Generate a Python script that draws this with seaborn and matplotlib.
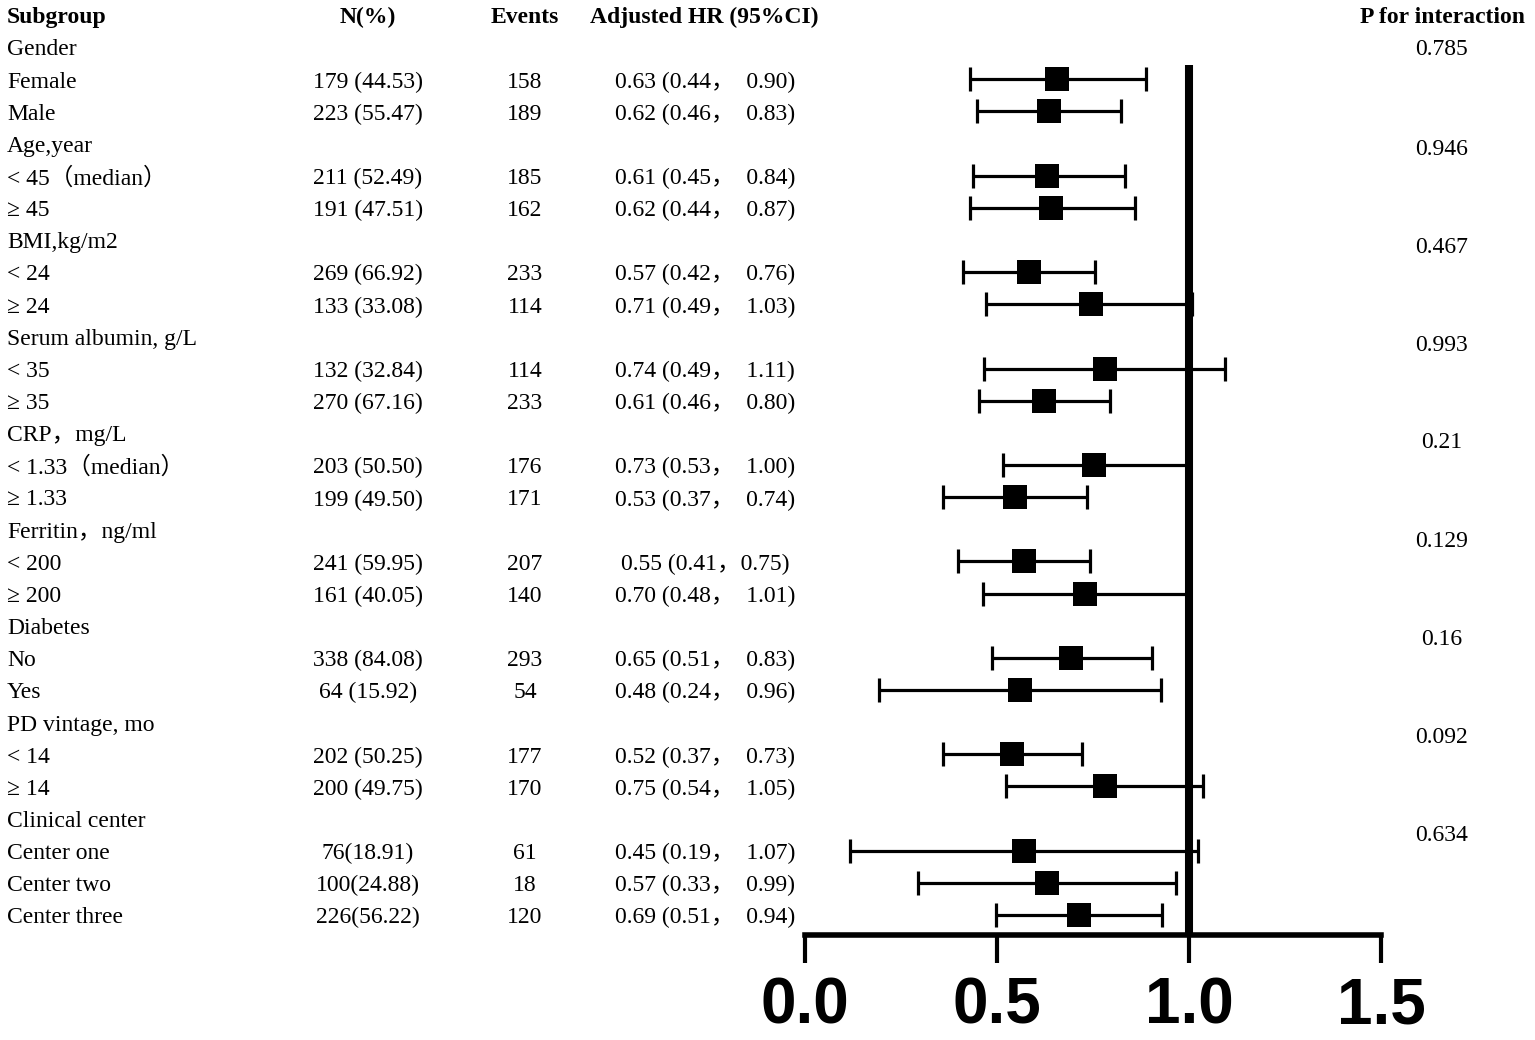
#!/usr/bin/env python3
"""
Forest plot of adjusted HR by subgroup, table columns on the left.
"""
import matplotlib
matplotlib.use('Agg')
import matplotlib.pyplot as plt
import matplotlib.transforms as mtransforms
import pandas as pd
import seaborn as sns

# table rows (group headers have no values)
labels = ['Gender', 'Female', 'Male',
          'Age,year', '< 45（median）', '≥ 45',
          'BMI,kg/m2', '< 24', '≥ 24',
          'Serum albumin, g/L', '< 35', '≥ 35',
          'CRP，mg/L', '< 1.33（median）', '≥ 1.33',
          'Ferritin，ng/ml', '< 200', '≥ 200',
          'Diabetes', 'No', 'Yes',
          'PD vintage, mo', '< 14', '≥ 14',
          'Clinical center', 'Center one', 'Center two', 'Center three']
is_group = [lab in ('Gender', 'Age,year', 'BMI,kg/m2', 'Serum albumin, g/L',
                    'CRP，mg/L', 'Ferritin，ng/ml', 'Diabetes',
                    'PD vintage, mo', 'Clinical center') for lab in labels]

n_pct = ['179 (44.53)', '223 (55.47)', '211 (52.49)', '191 (47.51)',
         '269 (66.92)', '133 (33.08)', '132 (32.84)', '270 (67.16)',
         '203 (50.50)', '199 (49.50)', '241 (59.95)', '161 (40.05)',
         '338 (84.08)', '64 (15.92)', '202 (50.25)', '200 (49.75)',
         '76(18.91)', '100(24.88)', '226(56.22)']
events = [158, 189, 185, 162, 233, 114, 114, 233, 176, 171, 207, 140,
          293, 54, 177, 170, 61, 18, 120]
hr_text = ['0.63 (0.44，  0.90)', '0.62 (0.46，  0.83)', '0.61 (0.45，  0.84)',
           '0.62 (0.44，  0.87)', '0.57 (0.42，  0.76)', '0.71 (0.49，  1.03)',
           '0.74 (0.49，  1.11)', '0.61 (0.46，  0.80)', '0.73 (0.53，  1.00)',
           '0.53 (0.37，  0.74)', '0.55 (0.41，0.75)', '0.70 (0.48，  1.01)',
           '0.65 (0.51，  0.83)', '0.48 (0.24，  0.96)', '0.52 (0.37，  0.73)',
           '0.75 (0.54，  1.05)', '0.45 (0.19，  1.07)', '0.57 (0.33，  0.99)',
           '0.69 (0.51，  0.94)']

# positions of squares / whiskers as drawn in the figure
hr_drawn = [0.656, 0.635, 0.630, 0.641, 0.583, 0.745, 0.781, 0.622, 0.753,
            0.547, 0.570, 0.729, 0.693, 0.560, 0.539, 0.781, 0.570, 0.630,
            0.714]
lo_drawn = [0.430, 0.448, 0.438, 0.430, 0.411, 0.471, 0.466, 0.453, 0.516,
            0.359, 0.398, 0.464, 0.487, 0.193, 0.359, 0.523, 0.117, 0.294,
            0.497]
hi_drawn = [0.888, 0.823, 0.833, 0.859, 0.755, 1.008, 1.094, 0.794, 0.995,
            0.734, 0.742, 0.995, 0.904, 0.927, 0.721, 1.036, 1.023, 0.966,
            0.930]

p_interaction = ['0.785', '0.946', '0.467', '0.993', '0.21', '0.129', '0.16',
                 '0.092', '0.634']
p_rows = [0.0, 3.11, 6.16, 9.21, 12.22, 15.3, 18.35, 21.4, 24.45]

x_ticks = [0.0, 0.5, 1.0, 1.5]

sub_rows = [i for i, g in enumerate(is_group) if not g]
data = pd.DataFrame({'row': sub_rows, 'hr': hr_drawn,
                     'lo': lo_drawn, 'hi': hi_drawn})

sns.set_style('white')
plt.rcParams['font.family'] = ['Liberation Serif', 'Noto Sans CJK SC', 'DejaVu Sans']
plt.rcParams['text.color'] = 'black'
plt.rcParams['xtick.color'] = 'black'
plt.rcParams['axes.labelcolor'] = 'black'

W, H = 1535, 1040
fig = plt.figure(figsize=(W / 100, H / 100), dpi=100)
row_h = 32.15
y_top = -47 / row_h
y_bot = (935 - 47) / row_h
ax = fig.add_axes([805 / W, 1 - 935 / H, 576 / W, 935 / H])
ax.set_xlim(0, 1.5)
ax.set_ylim(y_bot, y_top)

ax.errorbar(data['hr'], data['row'],
            xerr=[data['hr'] - data['lo'], data['hi'] - data['hr']],
            fmt='none', ecolor='black', elinewidth=2.3, capsize=8.6,
            capthick=2.3, zorder=2)
sns.scatterplot(x='hr', y='row', data=data, marker='s', s=300, color='black',
                edgecolor='black', linewidth=0, ax=ax, zorder=3, legend=False)
ax.vlines(1.0, 0.56, y_bot, color='black', lw=5.8, zorder=4)

sns.despine(ax=ax, left=True, top=True, right=True)
ax.spines['bottom'].set_linewidth(4)
ax.spines['bottom'].set_color('black')
ax.set_yticks([])
ax.set_xticks(x_ticks)
ax.set_xticklabels([f'{t:.1f}' for t in x_ticks], fontsize=46,
                   fontweight='bold', family='Liberation Sans', color='black')
ax.tick_params(axis='x', direction='out', length=20, width=3, pad=10,
               color='black', bottom=True)
ax.set_xlabel('')
ax.set_ylabel('')

# table text, x in figure pixels, y in row units
tr = mtransforms.blended_transform_factory(fig.transFigure, ax.transData)
fs = 17
dy = 0.09


def col(xpx):
    return xpx / W


head = dict(fontsize=fs, fontweight='bold', va='center', transform=tr,
            color='black')
ax.text(col(7), -1 + dy, 'Subgroup', ha='left', **head)
ax.text(col(368), -1 + dy, 'N(%)', ha='center', **head)
ax.text(col(525), -1 + dy, 'Events', ha='center', **head)
ax.text(col(704), -1 + dy, 'Adjusted HR (95%CI)', ha='center', **head)
ax.text(col(1442), -1 + dy, 'P for interaction', ha='center', **head)

body = dict(fontsize=fs, va='center', transform=tr, clip_on=False,
            color='black')
for i, lab in enumerate(labels):
    ax.text(col(7), i + dy, lab, ha='left', **body)
for r, n, e, h in zip(sub_rows, n_pct, events, hr_text):
    ax.text(col(368), r + dy, n, ha='center', **body)
    ax.text(col(525), r + dy, str(e), ha='center', **body)
    ax.text(col(705), r + dy, h, ha='center', **body)
for r, p in zip(p_rows, p_interaction):
    ax.text(col(1442), r + dy, p, ha='center', **body)

fig.savefig('out.png', dpi=100)
